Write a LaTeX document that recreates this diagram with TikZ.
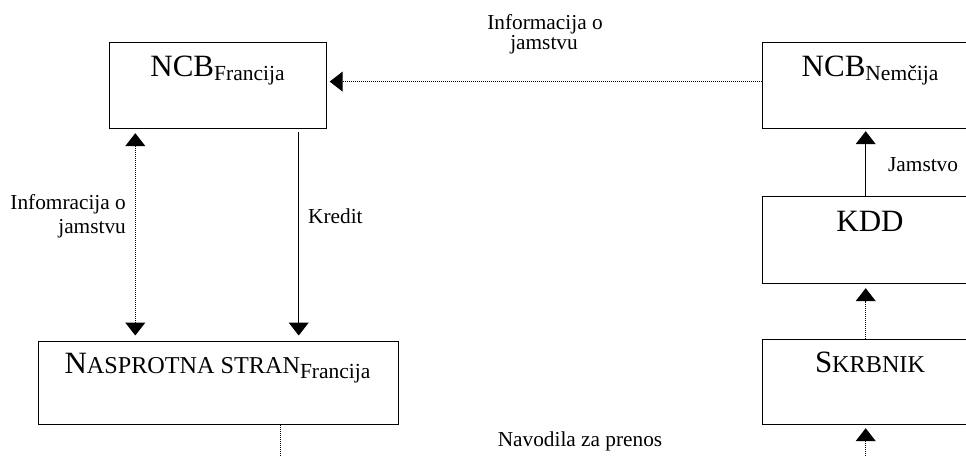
\documentclass[tikz,border=0pt]{standalone}
\usepackage{fontspec}
\setmainfont{Liberation Serif}
\usetikzlibrary{arrows.meta}
\newcommand\fsz[1]{\fontsize{#1}{#1}\selectfont}
\begin{document}
\begin{tikzpicture}[x=1pt,y=-1pt,
  >={Triangle[width=20pt,length=13pt]},
  boxnode/.style={draw, line width=1.2pt, minimum width=217pt, inner sep=0pt, anchor=north west},
  solidarr/.style={line width=1pt},
  dotarr/.style={line width=1pt, dash pattern=on 1pt off 1pt},
  txt/.style={inner sep=0pt, anchor=base},
  lbl/.style={inner sep=0pt, anchor=base, font=\fsz{21.3}}
]
\useasboundingbox (0,0) rectangle (966,455);
% boxes
\node[boxnode, minimum height=86pt] (ncbF) at (109,42) {};
\node[boxnode, minimum height=86pt] (ncbN) at (762,42) {};
\node[boxnode, minimum height=87pt] (kdd) at (762,196) {};
\node[boxnode, minimum height=85pt] (skr) at (762,339) {};
\node[boxnode, minimum height=83pt, minimum width=360pt] (nas) at (38,341) {};
% box texts
\node[txt] (tF) at (217.5,76.7) {\fsz{31}NCB\raisebox{-3.4pt}{\fsz{21.5}Francija}};
\node[txt] (tN) at (870,76.7) {\fsz{31}NCB\raisebox{-3.4pt}{\fsz{21.5}Nemčija}};
\node[txt] (tK) at (870,231.7) {\fsz{31}KDD};
\node[txt] (tS) at (870,372.5) {\fsz{31}S\fsz{24.2}KRBNIK};
\node[txt] (tA) at (217.5,373) {\fsz{31}N\fsz{24.2}ASPROTNA STRAN\raisebox{-5pt}{\fsz{21.5}Francija}};
% helper coordinates
\coordinate (xA) at (135.3,0);
\coordinate (xK) at (298.7,0);
\coordinate (xR) at (865.7,0);
\coordinate (xN) at (280.7,0);
\coordinate (bot) at (0,470);
% connectors
\draw[dotarr,->,shorten >=2.5pt] ([yshift=4pt]ncbN.west) -- ([yshift=4pt]ncbF.east);
\draw[dotarr,<->,shorten <=4pt,shorten >=5.5pt] (ncbF.south -| xA) -- (nas.north -| xA);
\draw[solidarr,->,shorten <=3pt,shorten >=5.5pt] (ncbF.south -| xK) -- (nas.north -| xK);
\draw[solidarr,->,shorten >=2pt] (kdd.north -| xR) -- (ncbN.south -| xR);
\draw[dotarr,->,shorten >=4pt] (skr.north -| xR) -- (kdd.south -| xR);
\draw[dotarr,->,shorten >=3pt] (bot -| xR) -- (skr.south -| xR);
\draw[dotarr] (nas.south -| xN) -- (bot -| xN);
% labels
\node[lbl] (l1a) at (545,29) {Informacija o};
\node[lbl] (l1b) at (544,49) {jamstvu};
\node[lbl, anchor=base east] (l2a) at (126,209) {Infomracija o};
\node[lbl, anchor=base east] (l2b) at (126,233) {jamstvu};
\node[lbl, anchor=base west] (l3) at (308,223) {Kredit};
\node[lbl, anchor=base west] (l4) at (888,171.7) {Jamstvo};
\node[lbl] (l5) at (580,446) {Navodila za prenos};
\end{tikzpicture}
\end{document}
